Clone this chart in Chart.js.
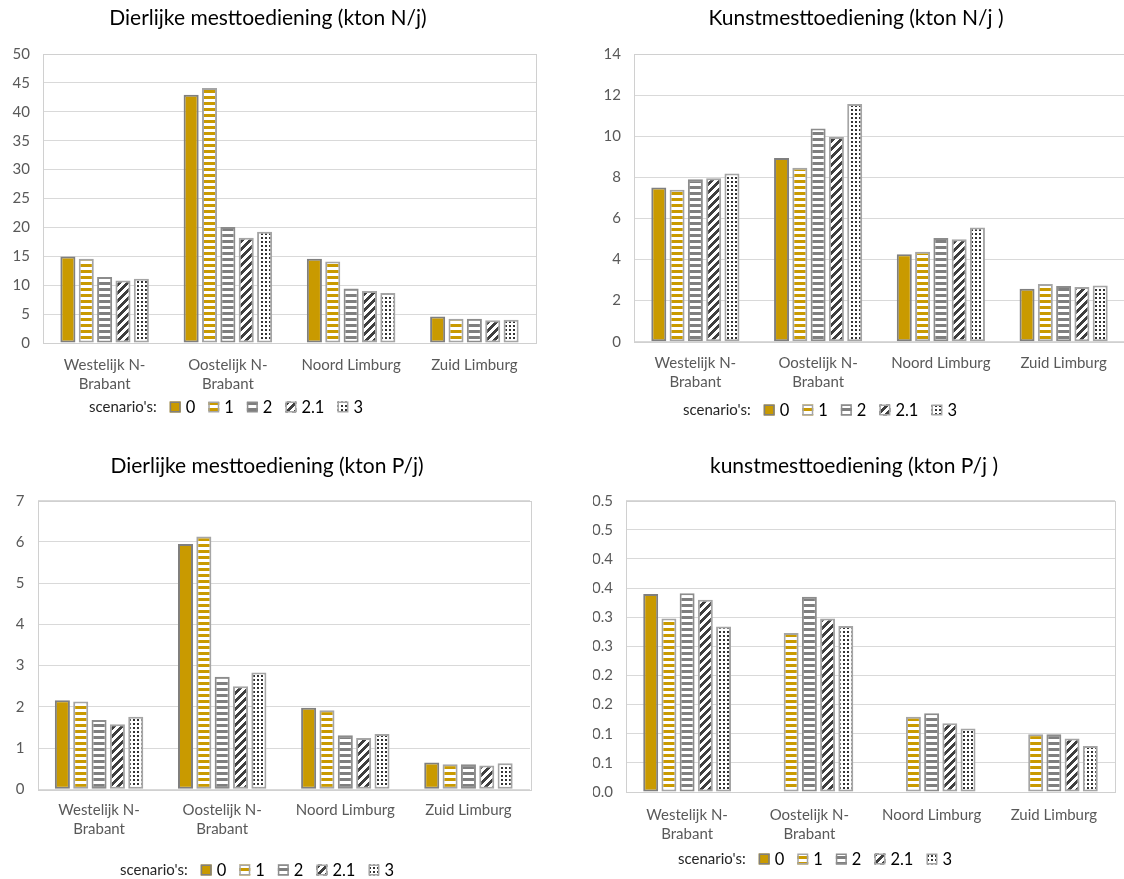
<!DOCTYPE html>
<html>
<head>
<meta charset="utf-8">
<title>Mesttoediening per regio</title>
<script src="https://cdn.jsdelivr.net/npm/chart.js@4/dist/chart.umd.min.js"></script>
<style>
  html, body { margin: 0; padding: 0; background: #fff; overflow: hidden; width: 1124px; height: 879px; }
  canvas { position: absolute; }
</style>
</head>
<body>
<canvas id="dierN" width="562" height="430" style="left:0;top:0"></canvas>
<canvas id="kunstN" width="580" height="430" style="left:562px;top:0"></canvas>
<canvas id="dierP" width="562" height="449" style="left:0;top:430px"></canvas>
<canvas id="kunstP" width="562" height="449" style="left:562px;top:430px"></canvas>
<script>
// ---- data ----
const categories = [['Westelijk N-', 'Brabant'], ['Oostelijk N-', 'Brabant'], 'Noord Limburg', 'Zuid Limburg'];
const scenarios = ['0', '1', '2', '2.1', '3'];

// Dierlijke mesttoediening (kton N/j)
const dierN_s0  = [14.98, 42.97, 14.57, 4.60];
const dierN_s1  = [14.57, 44.10, 14.11, 4.20];
const dierN_s2  = [11.40, 20.05, 9.45, 4.20];
const dierN_s21 = [10.83, 18.20, 8.99, 3.92];
const dierN_s3  = [11.12, 19.24, 8.64, 4.03];
const dierN_ticks = ['0', '5', '10', '15', '20', '25', '30', '35', '40', '45', '50'];

// Kunstmesttoediening (kton N/j)
const kunstN_s0  = [7.50, 8.94, 4.25, 2.58];
const kunstN_s1  = [7.40, 8.47, 4.38, 2.81];
const kunstN_s2  = [7.90, 10.38, 5.05, 2.71];
const kunstN_s21 = [7.95, 9.96, 4.98, 2.66];
const kunstN_s3  = [8.18, 11.57, 5.56, 2.74];
const kunstN_ticks = ['0', '2', '4', '6', '8', '10', '12', '14'];

// Dierlijke mesttoediening (kton P/j)
const dierP_s0  = [2.16, 5.95, 1.98, 0.65];
const dierP_s1  = [2.13, 6.13, 1.92, 0.61];
const dierP_s2  = [1.68, 2.73, 1.31, 0.61];
const dierP_s21 = [1.58, 2.50, 1.245, 0.58];
const dierP_s3  = [1.76, 2.83, 1.34, 0.63];
const dierP_ticks = ['0', '1', '2', '3', '4', '5', '6', '7'];

// kunstmesttoediening (kton P/j)
const kunstP_s0  = [0.340, null, null, null];
const kunstP_s1  = [0.298, 0.273, 0.129, 0.099];
const kunstP_s2  = [0.341, 0.335, 0.135, 0.099];
const kunstP_s21 = [0.330, 0.298, 0.118, 0.092];
const kunstP_s3  = [0.284, 0.285, 0.109, 0.079];
const kunstP_ticks = ['0.0', '0.1', '0.1', '0.2', '0.2', '0.3', '0.3', '0.4', '0.4', '0.5', '0.5'];

// ---- styling ----
const FONT = 'Lato, "Open Sans", sans-serif';
const GOLD = '#C99A00';
const borderColors = ['#7F7F7F', '#A5A5A5', '#8C8C8C', '#A5A5A5', '#A5A5A5'];

function tile(ctx, w, h, paint) {
  const c = document.createElement('canvas');
  c.width = w; c.height = h;
  const g = c.getContext('2d');
  g.fillStyle = '#fff';
  g.fillRect(0, 0, w, h);
  paint(g);
  return ctx.createPattern(c, 'repeat');
}

function fills(ctx) {
  const stripes = color => tile(ctx, 6, 6, g => { g.fillStyle = color; g.fillRect(0, 0, 6, 3); });
  const diagonal = tile(ctx, 8, 8, g => {
    g.fillStyle = '#3F3F3F';
    for (let y = 0; y < 8; y++) for (let x = 0; x < 8; x++) if ((x + y) % 8 < 4) g.fillRect(x, y, 1, 1);
  });
  const dots = tile(ctx, 4, 4, g => { g.fillStyle = '#333333'; g.fillRect(1, 1, 2, 2); });
  return [GOLD, stripes(GOLD), stripes('#7F7F7F'), diagonal, dots];
}

// light frame round the plot area
const plotFrame = {
  id: 'plotFrame',
  beforeDatasetsDraw(chart) {
    const { ctx, chartArea: a } = chart;
    ctx.save();
    ctx.strokeStyle = '#D0D0D0';
    ctx.lineWidth = 1;
    ctx.strokeRect(Math.round(a.left) + 0.5, Math.round(a.top) + 0.5,
      Math.round(a.right - a.left), Math.round(a.bottom - a.top));
    ctx.restore();
  }
};

// single-row legend preceded by a caption
const scenarioLegend = {
  id: 'scenarioLegend',
  afterDraw(chart, args, opts) {
    const ctx = chart.ctx;
    ctx.save();
    ctx.textBaseline = 'middle';
    ctx.textAlign = 'left';
    let x = opts.x;
    const y = opts.y;
    ctx.font = opts.captionFont;
    ctx.fillStyle = '#262626';
    ctx.fillText(opts.caption, x, y);
    x += ctx.measureText(opts.caption).width + 13;
    ctx.font = opts.font;
    chart.data.datasets.forEach(ds => {
      ctx.fillStyle = ds.backgroundColor;
      ctx.fillRect(x, y - 5.5, 11, 11);
      ctx.strokeStyle = ds.borderColor;
      ctx.lineWidth = 1.5;
      ctx.strokeRect(x + 0.75, y - 4.75, 9.5, 9.5);
      x += 16;
      ctx.fillStyle = '#000';
      ctx.fillText(ds.label, x, y + 0.5);
      x += ctx.measureText(ds.label).width + 13;
    });
    ctx.restore();
  }
};

function makeChart(id, title, series, tickLabels, max, step, g) {
  const canvas = document.getElementById(id);
  const ctx = canvas.getContext('2d');
  const W = canvas.width, H = canvas.height;
  const pf = fills(ctx);
  const titleSize = 21, titleLH = titleSize * 1.2;
  const tickSize = 15, tickLH = tickSize * 1.3;

  return new Chart(ctx, {
    type: 'bar',
    data: {
      labels: categories,
      datasets: series.map((values, i) => ({
        label: scenarios[i],
        data: values,
        backgroundColor: pf[i],
        borderColor: borderColors[i],
        borderWidth: 2,
        borderSkipped: false,
        categoryPercentage: 0.745,
        barPercentage: 0.82
      }))
    },
    options: {
      responsive: false,
      animation: false,
      devicePixelRatio: 1,
      layout: { padding: { left: g.padL, right: W - g.right, top: 0, bottom: 0 } },
      plugins: {
        legend: { display: false },
        tooltip: { enabled: false },
        title: {
          display: true,
          text: title,
          color: '#000',
          font: { family: FONT, size: titleSize, weight: 'normal', lineHeight: 1.2 },
          padding: { top: g.titleY - titleLH / 2, bottom: g.top - g.titleY - titleLH / 2 }
        },
        scenarioLegend: {
          caption: "scenario's:", x: g.legX, y: g.legY,
          captionFont: '15px ' + FONT, font: '16.5px ' + FONT
        }
      },
      scales: {
        x: {
          grid: { display: false, drawTicks: false },
          border: { display: false },
          ticks: {
            color: '#595959',
            font: { family: FONT, size: tickSize, lineHeight: 1.3 },
            padding: g.xLine1 - g.bottom - tickLH / 2,
            maxRotation: 0,
            autoSkip: false
          },
          afterFit(s) { s.height = H - g.bottom; }
        },
        y: {
          min: 0,
          max: max,
          grid: { color: '#D9D9D9', drawTicks: false },
          border: { display: false },
          ticks: {
            stepSize: step,
            color: '#595959',
            font: { family: FONT, size: tickSize },
            padding: 13,
            callback: (v, i) => tickLabels[i]
          },
          afterFit(s) { s.width = g.left - g.padL; }
        }
      }
    },
    plugins: [plotFrame, scenarioLegend]
  });
}

makeChart('dierN', 'Dierlijke mesttoediening (kton N/j)',
  [dierN_s0, dierN_s1, dierN_s2, dierN_s21, dierN_s3], dierN_ticks, 50, 5,
  { padL: 0, left: 43, right: 536, top: 54, bottom: 343, titleY: 18, xLine1: 365, legX: 89, legY: 407 });

makeChart('kunstN', 'Kunstmesttoediening (kton N/j )',
  [kunstN_s0, kunstN_s1, kunstN_s2, kunstN_s21, kunstN_s3], kunstN_ticks, 14, 2,
  { padL: 25, left: 72, right: 563, top: 54, bottom: 341.7, titleY: 18.3, xLine1: 363, legX: 121, legY: 410 });

makeChart('dierP', 'Dierlijke mesttoediening (kton P/j)',
  [dierP_s0, dierP_s1, dierP_s2, dierP_s21, dierP_s3], dierP_ticks, 7, 1,
  { padL: 4, left: 37.5, right: 530, top: 70.7, bottom: 359.3, titleY: 36.7, xLine1: 380, legX: 120, legY: 440 });

makeChart('kunstP', 'kunstmesttoediening (kton P/j )',
  [kunstP_s0, kunstP_s1, kunstP_s2, kunstP_s21, kunstP_s3], kunstP_ticks, 0.5, 0.05,
  { padL: 31, left: 64, right: 553, top: 70.7, bottom: 362, titleY: 36, xLine1: 385, legX: 116, legY: 429 });
</script>
</body>
</html>
